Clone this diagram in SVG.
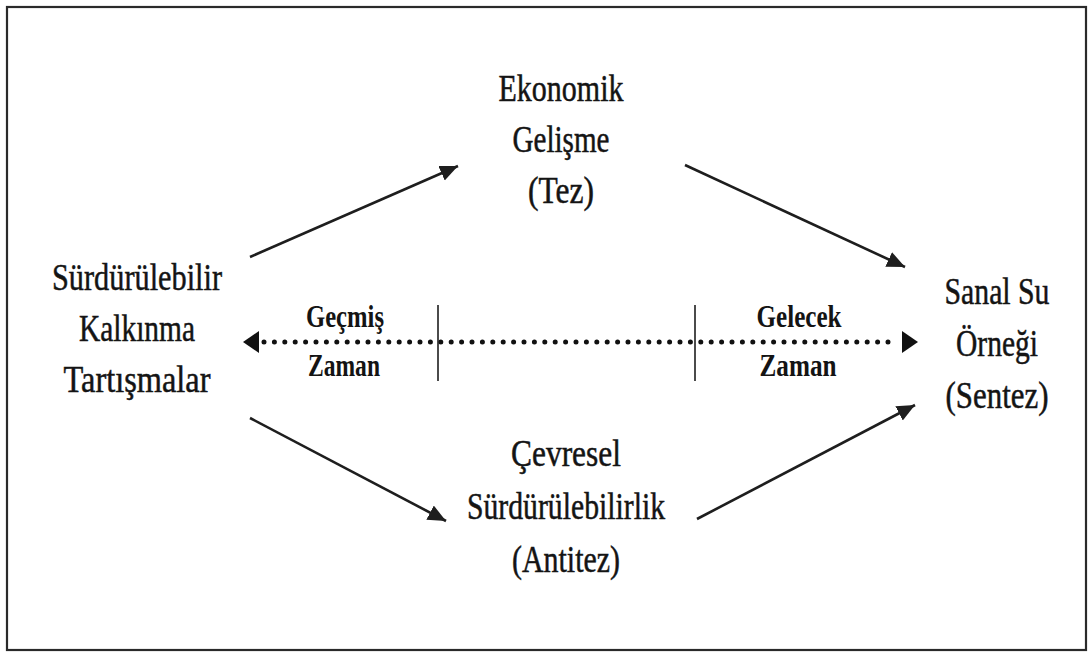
<svg xmlns="http://www.w3.org/2000/svg" width="1089" height="652" viewBox="0 0 1089 652">
  <style>
    .lbl { font-size: 38px; fill: #141414; stroke: #141414; stroke-width: 0.5; text-anchor: middle; }
    .time { font-size: 31px; font-weight: bold; fill: #141414; text-anchor: middle; }
    .flow { stroke: #1e1e1e; stroke-width: 2.6; fill: none; marker-end: url(#head); }
    .tick { stroke: #1e1e1e; stroke-width: 1.6; }
    .dots { stroke: #111; stroke-width: 5; stroke-linecap: round; stroke-dasharray: 0 10.4; fill: none; }
  </style>
  <defs>
    <marker id="head" markerUnits="userSpaceOnUse" markerWidth="20" markerHeight="18" refX="18" refY="8" orient="auto">
      <path d="M0,0 L18,8 L0,16 Z" fill="#1e1e1e"/>
    </marker>
  </defs>

  <rect x="0" y="0" width="1089" height="652" fill="#ffffff"/>
  <!-- outer frame -->
  <rect x="7" y="7" width="1079" height="643" fill="none" stroke="#2a2a2a" stroke-width="2.2"/>

  <!-- connectors -->
  <g id="connectors">
    <line class="flow" x1="250" y1="257" x2="458" y2="166"/>
    <line class="flow" x1="685" y1="165" x2="905" y2="267"/>
    <line class="flow" x1="250" y1="418" x2="446" y2="521"/>
    <line class="flow" x1="697" y1="519" x2="915" y2="405"/>
    <!-- timeline -->
    <line class="dots" x1="264" y1="342" x2="898" y2="342"/>
    <path d="M243,342 L259,331 L259,353 Z" fill="#111"/>
    <path d="M918,342 L902,331 L902,353 Z" fill="#111"/>
    <line class="tick" x1="438" y1="305" x2="438" y2="381"/>
    <line class="tick" x1="695" y1="305" x2="695" y2="381"/>
  </g>

  <g font-family="Liberation Serif">
    <g id="past">
      <text class="time" x="345" y="327" textLength="78" lengthAdjust="spacingAndGlyphs">Geçmiş</text>
      <text class="time" x="344" y="376" textLength="72" lengthAdjust="spacingAndGlyphs">Zaman</text>
    </g>
    <g id="future">
      <text class="time" x="799" y="327" textLength="85" lengthAdjust="spacingAndGlyphs">Gelecek</text>
      <text class="time" x="798" y="376" textLength="77" lengthAdjust="spacingAndGlyphs">Zaman</text>
    </g>

    <g id="kalkinma">
      <text class="lbl" x="137" y="290" textLength="170" lengthAdjust="spacingAndGlyphs">Sürdürülebilir</text>
      <text class="lbl" x="137" y="341" textLength="116" lengthAdjust="spacingAndGlyphs">Kalkınma</text>
      <text class="lbl" x="137" y="392" textLength="147" lengthAdjust="spacingAndGlyphs">Tartışmalar</text>
    </g>

    <g id="tez">
      <text class="lbl" x="561" y="101" textLength="125" lengthAdjust="spacingAndGlyphs">Ekonomik</text>
      <text class="lbl" x="561" y="152" textLength="97" lengthAdjust="spacingAndGlyphs">Gelişme</text>
      <text class="lbl" x="561" y="203" textLength="66" lengthAdjust="spacingAndGlyphs">(Tez)</text>
    </g>

    <g id="antitez">
      <text class="lbl" x="566" y="466" textLength="110" lengthAdjust="spacingAndGlyphs">Çevresel</text>
      <text class="lbl" x="566" y="519" textLength="198" lengthAdjust="spacingAndGlyphs">Sürdürülebilirlik</text>
      <text class="lbl" x="566" y="572" textLength="108" lengthAdjust="spacingAndGlyphs">(Antitez)</text>
    </g>

    <g id="sentez">
      <text class="lbl" x="997" y="304" textLength="105" lengthAdjust="spacingAndGlyphs">Sanal Su</text>
      <text class="lbl" x="997" y="356" textLength="82" lengthAdjust="spacingAndGlyphs">Örneği</text>
      <text class="lbl" x="997" y="408" textLength="103" lengthAdjust="spacingAndGlyphs">(Sentez)</text>
    </g>
  </g>
</svg>
